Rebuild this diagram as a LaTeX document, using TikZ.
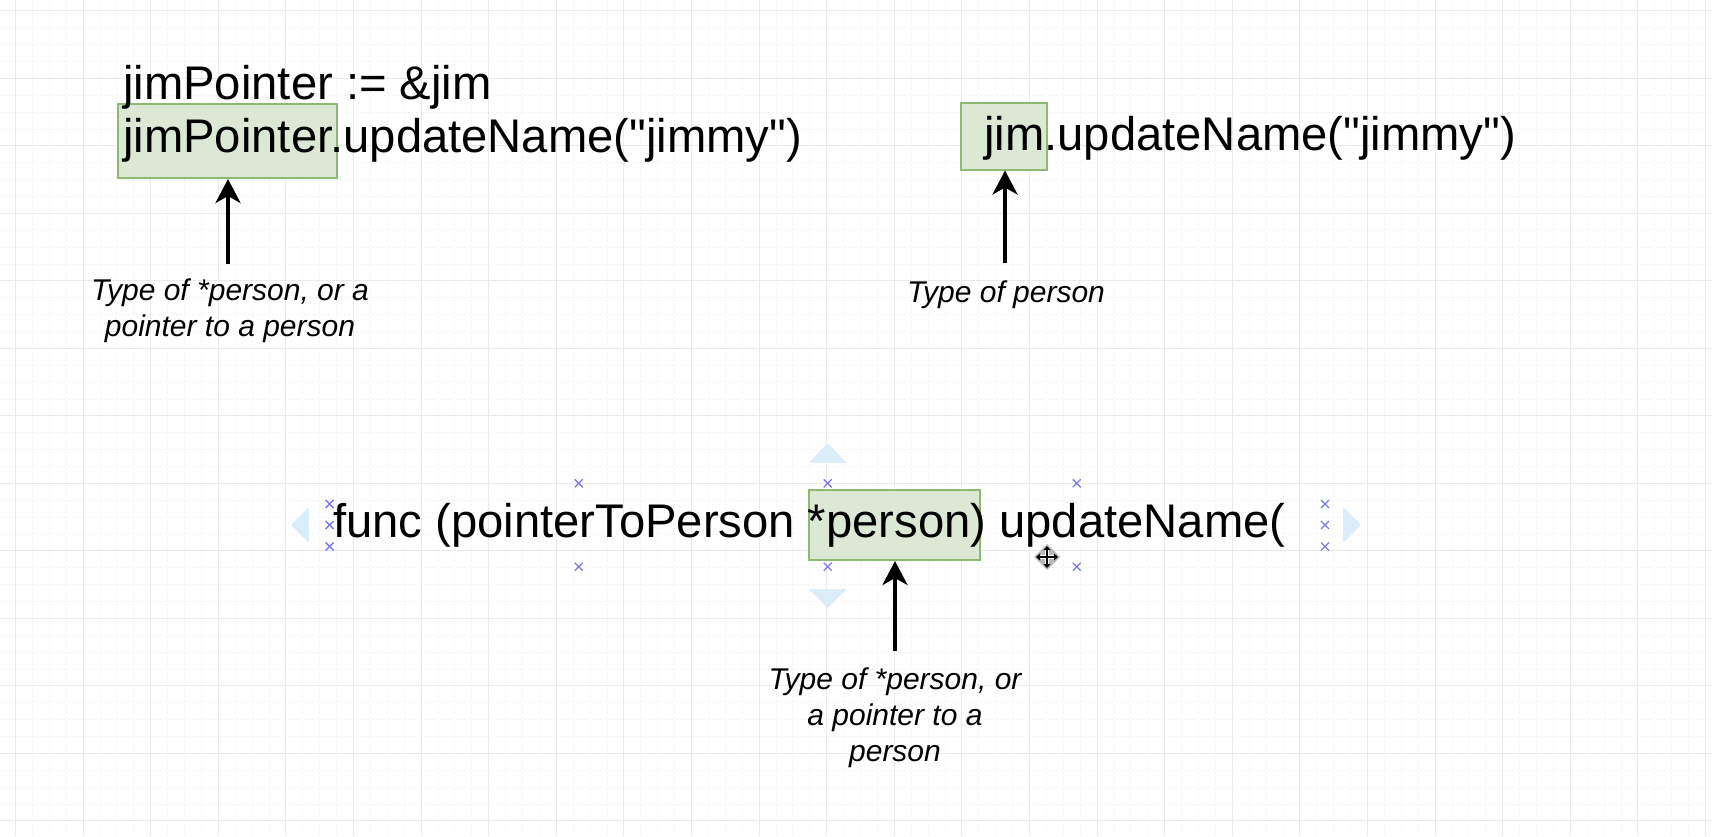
\documentclass[tikz,border=0pt]{standalone}
\usepackage{fontspec}
\setmainfont{Liberation Sans}[Ligatures=TeXOff]
\usetikzlibrary{arrows.meta}
\definecolor{boxfill}{HTML}{DAE8D4}
\definecolor{boxline}{HTML}{8DBA72}
\definecolor{gridmaj}{HTML}{EAEAEA}
\definecolor{gridmin}{HTML}{F4F4F4}
\definecolor{handle}{HTML}{7B7BE8}
\definecolor{hoverblue}{HTML}{DCEDFA}
\begin{document}
\begin{tikzpicture}[x=1pt,y=-1pt,
  code/.style={inner sep=0pt, anchor=base west, font=\fontsize{47.2}{54}\selectfont},
  note/.style={inner sep=0pt, anchor=base, align=center, font=\fontsize{30}{36}\selectfont\itshape},
  hl/.style={draw=boxline, fill=boxfill, line width=2pt, inner sep=0pt},
  pointer/.style={-{Stealth[length=24pt,width=25pt,inset=7pt]}, line width=4pt},
  hover/.style={fill=hoverblue, draw=none, rounded corners=2pt},
  xh/.pic={\draw[handle, line width=1.3pt] (-4,-4) -- (4,4) (-4,4) -- (4,-4);}
]
\useasboundingbox (0,0) rectangle (1712,836);
\fill[white] (0,0) rectangle (1712,836);
% minor grid
\foreach \i in {-1,...,101} {\draw[gridmin, line width=0.8pt, dash pattern=on 1.5pt off 2.5pt] ({15.4+16.9*\i},0) -- ({15.4+16.9*\i},836);}
\foreach \j in {-1,...,50} {\draw[gridmin, line width=0.8pt, dash pattern=on 1.5pt off 2.5pt] (0,{10.8+16.875*\j}) -- (1712,{10.8+16.875*\j});}
% major grid
\foreach \i in {0,...,25} {\draw[gridmaj, line width=1pt] ({15.4+67.6*\i},0) -- ({15.4+67.6*\i},836);}
\foreach \j in {0,...,12} {\draw[gridmaj, line width=1pt] (0,{10.8+67.5*\j}) -- (1712,{10.8+67.5*\j});}

% highlight boxes
\node[hl, minimum width=219.5pt, minimum height=74pt] (boxA) at (227.3,141) {};
\node[hl, minimum width=85.5pt, minimum height=67pt] (boxB) at (1003.8,136) {};
\node[hl, minimum width=171pt, minimum height=70pt] (boxC) at (894,525) {};

% code lines
\node[code] (lineA1) at (123,99) {jimPointer := \&jim};
\node[code] (lineA2) at (123,152) {jimPointer.updateName("jimmy")};
\node[code] (lineB) at (984,150) {jim.updateName("jimmy")};
\node[code] (lineC) at (333,537) {func (pointerToPerson *person) updateName(};

% labels (anchor base = baseline of the last line)
\node[note] (noteA) at (230,336) {Type of *person, or a\\pointer to a person};
\node[note] (noteB) at (1006,302) {Type of person};
\node[note] (noteC) at (895,761) {Type of *person, or\\a pointer to a\\person};

% arrows
\coordinate (tailA) at (228,264);
\coordinate (tailB) at (1005,263);
\coordinate (tailC) at (895,651);
\draw[pointer] (tailA) -- (tailA |- boxA.south);
\draw[pointer] (tailB) -- (tailB |- boxB.south);
\draw[pointer] (tailC) -- (tailC |- boxC.south);

% hover arrows of the selected text
\fill[hover] (808.7,463) -- (827.7,443) -- (846.7,463) -- cycle;
\fill[hover] (808.7,589) -- (827.7,608) -- (846.7,589) -- cycle;
\fill[hover] (309,507) -- (291,525) -- (309,543) -- cycle;
\fill[hover] (1343,507) -- (1361,525) -- (1343,543) -- cycle;

% selection handles
\foreach \x in {578.7,827.7,1076.7} {\pic at (\x,483.3) {xh}; \pic at (\x,566.7) {xh};}
\foreach \y in {504,525,546.5} {\pic at (329.6,\y) {xh}; \pic at (1325,\y) {xh};}

% move cursor
\begin{scope}[shift={(1047,557)}]
  \fill[black!45, opacity=0.6] (0,-13) -- (13,0) -- (0,13) -- (-13,0) -- cycle;
  \draw[white, line width=4.5pt] (-9,0) -- (9,0) (0,-9) -- (0,9);
  \draw[black, line width=1.6pt] (-8,0) -- (8,0) (0,-8) -- (0,8);
  \fill[black] (-11,0) -- (-7,-3.5) -- (-7,3.5) -- cycle;
  \fill[black] (11,0) -- (7,-3.5) -- (7,3.5) -- cycle;
  \fill[black] (0,-11) -- (-3.5,-7) -- (3.5,-7) -- cycle;
  \fill[black] (0,11) -- (-3.5,7) -- (3.5,7) -- cycle;
\end{scope}
\end{tikzpicture}
\end{document}
